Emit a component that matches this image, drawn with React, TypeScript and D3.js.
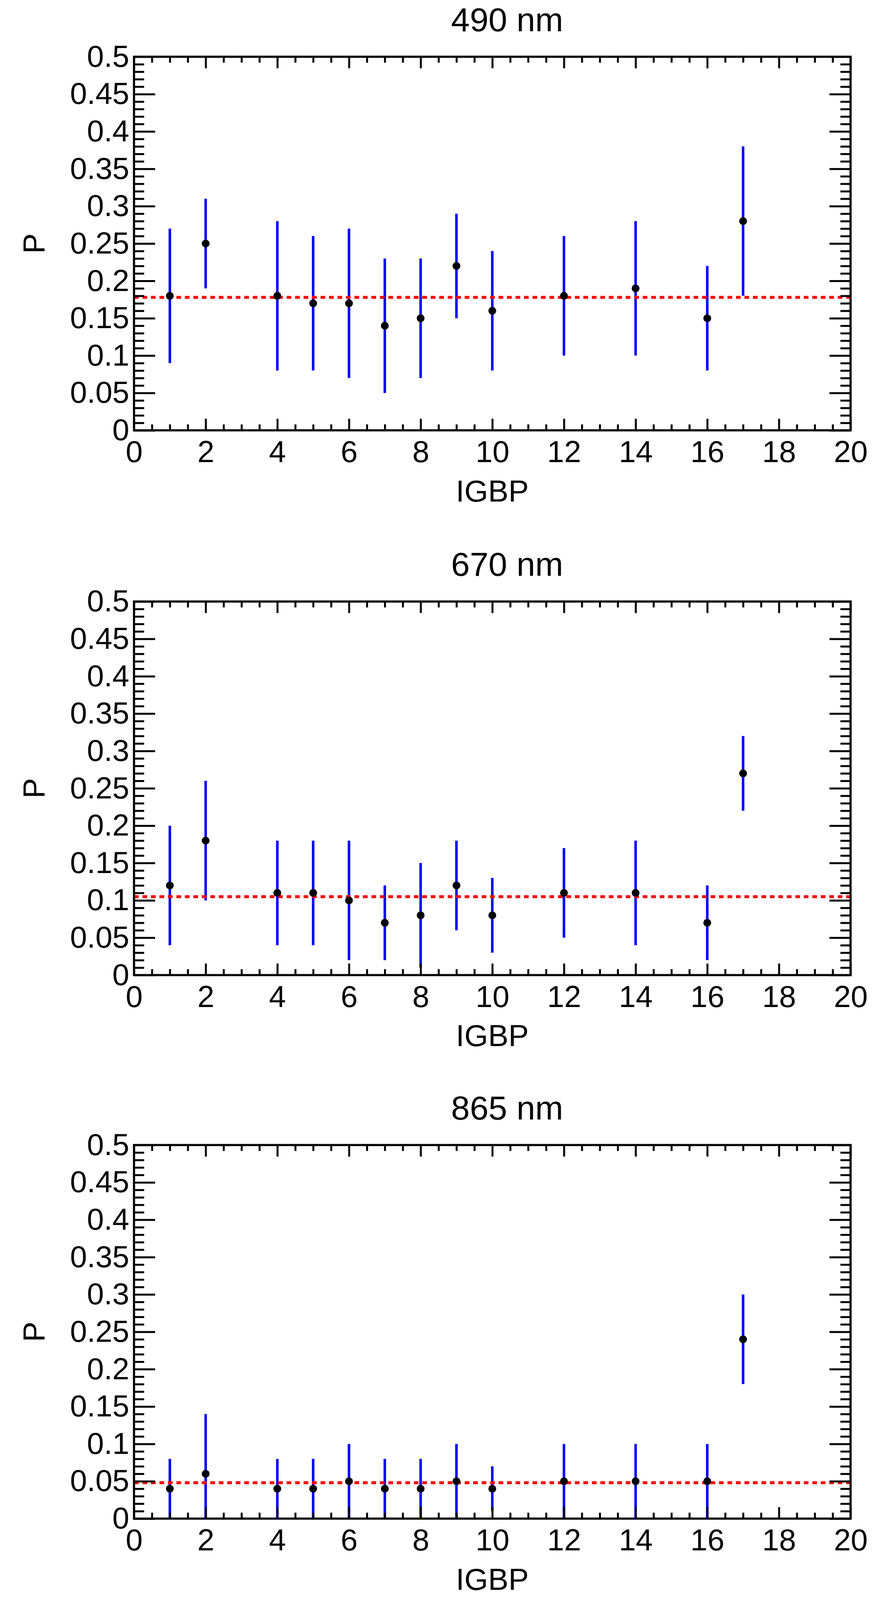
import { useEffect, useRef } from "react";
import * as d3 from "d3";

// IGBP land-cover classes present in every panel
const igbpClasses = [1, 2, 4, 5, 6, 7, 8, 9, 10, 12, 14, 16, 17];

const panelTitles = ["490 nm", "670 nm", "865 nm"];

// P value and its (symmetric) error per class
const p490 = [0.18, 0.25, 0.18, 0.17, 0.17, 0.14, 0.15, 0.22, 0.16, 0.18, 0.19, 0.15, 0.28];
const err490 = [0.09, 0.06, 0.10, 0.09, 0.10, 0.09, 0.08, 0.07, 0.08, 0.08, 0.09, 0.07, 0.10];
const mean490 = 0.178;

const p670 = [0.12, 0.18, 0.11, 0.11, 0.10, 0.07, 0.08, 0.12, 0.08, 0.11, 0.11, 0.07, 0.27];
const err670 = [0.08, 0.08, 0.07, 0.07, 0.08, 0.05, 0.07, 0.06, 0.05, 0.06, 0.07, 0.05, 0.05];
const mean670 = 0.105;

const p865 = [0.04, 0.06, 0.04, 0.04, 0.05, 0.04, 0.04, 0.05, 0.04, 0.05, 0.05, 0.05, 0.24];
const err865 = [0.04, 0.08, 0.04, 0.04, 0.05, 0.04, 0.04, 0.05, 0.03, 0.05, 0.05, 0.05, 0.06];
const mean865 = 0.048;

const xTicks = [0, 2, 4, 6, 8, 10, 12, 14, 16, 18, 20];
const yTicks = [0, 0.05, 0.1, 0.15, 0.2, 0.25, 0.3, 0.35, 0.4, 0.45, 0.5];

const FONT = "'Liberation Sans', Arial, Helvetica, sans-serif";
const W = 2260;
const H = 5131;

// the browser window can be shorter than the requested page; squeeze the
// vertical layout so all three panels stay on screen
const verticalScale = () =>
	typeof window === "undefined" ? 1 : Math.min(1, window.innerHeight / H);

export default function App() {
	const svgRef = useRef<SVGSVGElement>(null);
	const sy = verticalScale();

	useEffect(() => {
		document.body.style.margin = "0";
		if (!svgRef.current) return;
		const svg = d3.select(svgRef.current);
		svg.selectAll("*").remove();

		const panels = [
			{ title: panelTitles[0], values: p490, errors: err490, mean: mean490 },
			{ title: panelTitles[1], values: p670, errors: err670, mean: mean670 },
			{ title: panelTitles[2], values: p865, errors: err865, mean: mean865 },
		];

		const left = 343;
		const right = 2177;
		const panelTop = [182, 1929, 3672].map(v => v * sy);
		const plotH = 1198 * sy;

		const x = d3.scaleLinear().domain([0, 20]).range([left, right]);
		const xMinor = d3.range(0, 20.001, 0.5).filter(v => v % 2 !== 0);
		const yMinor = d3.range(0, 50.001, 1).filter(v => v % 5 !== 0).map(v => v / 100);
		const fmtY = (d: d3.NumberValue) => `${Math.round(+d * 100) / 100}`;

		const styleAxis = (sel: d3.Selection<SVGGElement, unknown, null, undefined>, w: number) => {
			sel.select(".domain").remove();
			sel.selectAll(".tick line").attr("stroke", "#000").attr("stroke-width", w);
			sel.attr("font-family", FONT).attr("font-size", 78);
			sel.selectAll("text").attr("fill", "#000");
		};

		panels.forEach((panel, i) => {
			const top = panelTop[i];
			const bottom = top + plotH;
			const y = d3.scaleLinear().domain([0, 0.5]).range([bottom, top]);
			const g = svg.append("g");

			const clipId = `plot-clip-${i}`;
			g.append("clipPath")
				.attr("id", clipId)
				.append("rect")
				.attr("x", left)
				.attr("y", top)
				.attr("width", right - left)
				.attr("height", plotH);

			const data = igbpClasses.map((c, k) => ({ c, v: panel.values[k], e: panel.errors[k] }));
			const plot = g.append("g").attr("clip-path", `url(#${clipId})`);

			// error bars
			plot.selectAll(".err")
				.data(data)
				.enter()
				.append("line")
				.attr("x1", d => x(d.c))
				.attr("x2", d => x(d.c))
				.attr("y1", d => y(d.v - d.e))
				.attr("y2", d => y(d.v + d.e))
				.attr("stroke", "#0000ff")
				.attr("stroke-width", 6.5);

			// mean line
			plot.append("line")
				.attr("x1", x(0))
				.attr("x2", x(20))
				.attr("y1", y(panel.mean))
				.attr("y2", y(panel.mean))
				.attr("stroke", "#ff0000")
				.attr("stroke-width", 7.5)
				.attr("stroke-dasharray", "12 9.7");

			// markers
			plot.selectAll(".pt")
				.data(data)
				.enter()
				.append("circle")
				.attr("cx", d => x(d.c))
				.attr("cy", d => y(d.v))
				.attr("r", 10)
				.attr("fill", "#000");

			// axes: major + minor ticks, pointing inward on all four sides
			const xMajorLen = 37 * sy;
			const xMinorLen = 19 * sy;
			styleAxis(g.append("g")
				.attr("transform", `translate(0,${bottom})`)
				.call(d3.axisBottom(x).tickValues(xTicks).tickSize(-xMajorLen).tickPadding(26).tickFormat(d3.format("d"))), 5);
			styleAxis(g.append("g")
				.attr("transform", `translate(0,${bottom})`)
				.call(d3.axisBottom(x).tickValues(xMinor).tickSize(-xMinorLen).tickFormat(() => "")), 5);
			styleAxis(g.append("g")
				.attr("transform", `translate(0,${top})`)
				.call(d3.axisTop(x).tickValues(xTicks).tickSize(-xMajorLen).tickFormat(() => "")), 5);
			styleAxis(g.append("g")
				.attr("transform", `translate(0,${top})`)
				.call(d3.axisTop(x).tickValues(xMinor).tickSize(-xMinorLen).tickFormat(() => "")), 5);

			styleAxis(g.append("g")
				.attr("transform", `translate(${left},0)`)
				.call(d3.axisLeft(y).tickValues(yTicks).tickSize(-54).tickPadding(12).tickFormat(fmtY)), 5);
			styleAxis(g.append("g")
				.attr("transform", `translate(${left},0)`)
				.call(d3.axisLeft(y).tickValues(yMinor).tickSize(-26).tickFormat(() => "")), 5);
			styleAxis(g.append("g")
				.attr("transform", `translate(${right},0)`)
				.call(d3.axisRight(y).tickValues(yTicks).tickSize(-54).tickFormat(() => "")), 5);
			styleAxis(g.append("g")
				.attr("transform", `translate(${right},0)`)
				.call(d3.axisRight(y).tickValues(yMinor).tickSize(-26).tickFormat(() => "")), 5);

			// frame
			g.append("rect")
				.attr("x", left)
				.attr("y", top)
				.attr("width", right - left)
				.attr("height", plotH)
				.attr("fill", "none")
				.attr("stroke", "#000")
				.attr("stroke-width", 5.5);

			// titles
			g.append("text")
				.attr("x", 1298)
				.attr("y", top - 82 * sy)
				.attr("text-anchor", "middle")
				.attr("font-family", FONT)
				.attr("font-size", 86)
				.text(panel.title);

			g.append("text")
				.attr("x", (left + right) / 2)
				.attr("y", bottom + 228 * sy)
				.attr("text-anchor", "middle")
				.attr("font-family", FONT)
				.attr("font-size", 78)
				.text("IGBP");

			g.append("text")
				.attr("transform", `translate(114,${(top + bottom) / 2}) rotate(-90)`)
				.attr("text-anchor", "middle")
				.attr("font-family", FONT)
				.attr("font-size", 78)
				.text("P");
		});
	}, [sy]);

	return (
		<div style={{ width: W, height: H * sy, background: "#fff" }}>
			<svg ref={svgRef} width={W} height={H * sy} style={{ display: "block" }} />
		</div>
	);
}
